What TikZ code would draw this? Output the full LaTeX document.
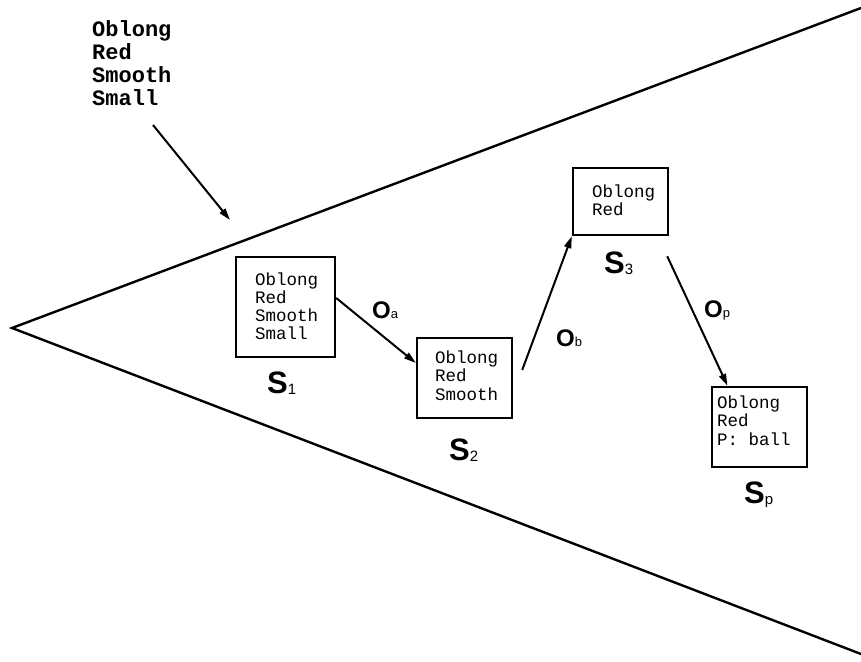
\documentclass[tikz,border=0pt]{standalone}
\usepackage{fontspec}
\setmainfont{Liberation Serif}
\newfontfamily\monofont{Liberation Mono}
\newfontfamily\labelsans{Liberation Sans}
\usetikzlibrary{arrows.meta}

% lines stacked at a fixed baseline distance; the stack's baseline is its first line
\newcommand\linestack[2]{\vtop{\baselineskip=#1\lineskiplimit=-100pt\relax #2}}
% state names: bold S with a plain subscript
\newcommand\statename[2]{{\labelsans\bfseries\fontsize{31}{31}\selectfont #1}{\labelsans\fontsize{15}{15}\selectfont\raisebox{-1pt}{#2}}}
% operator names: bold O with a small subscript
\newcommand\opname[2]{{\labelsans\bfseries\fontsize{24}{24}\selectfont #1}{\labelsans\fontsize{13}{13}\selectfont #2}}

\tikzset{
  statebox/.style={draw, line width=2.4pt, inner sep=0pt},
  boxtext/.style={inner sep=0pt, anchor=base west, font=\monofont\fontsize{17.5}{18.3}\selectfont},
  cuetext/.style={inner sep=0pt, anchor=base west, font=\monofont\bfseries\fontsize{22}{23}\selectfont},
  namelabel/.style={inner sep=0pt, anchor=base west},
  conearm/.style={line width=2.4pt, line cap=round},
  opedge/.style={line width=2pt, -{Triangle[length=12pt,width=7pt]}},
}

\begin{document}
\begin{tikzpicture}[x=1pt, y=-1pt]
  \useasboundingbox (0,0) rectangle (861,661);
  \fill[white] (0,0) rectangle (861,661);

  % the cone of the search space
  \coordinate (apex) at (12,328);
  \coordinate (upperend) at (861,8);
  \coordinate (lowerend) at (861,654);
  \draw[conearm] (upperend) -- (apex) -- (lowerend);

  % incoming description
  \node[cuetext] (cue) at (92,37)
    {\linestack{23pt}{\hbox{Oblong}\hbox{Red}\hbox{Smooth}\hbox{Small}}};
  \coordinate (cuetail) at (153,125);
  \coordinate (cuehead) at (230,220);
  \draw[opedge] (cuetail) -- (cuehead);

  % states
  \node[statebox, minimum width=99pt, minimum height=100pt] (s1) at (285.5,307) {};
  \node[boxtext] (s1text) at (255,285)
    {\linestack{18.3pt}{\hbox{Oblong}\hbox{Red}\hbox{Smooth}\hbox{Small}}};
  \node[namelabel] (s1name) at (267,393) {\statename{S}{1}};

  \node[statebox, minimum width=95pt, minimum height=80pt] (s2) at (464.5,378) {};
  \node[boxtext] (s2text) at (435,363)
    {\linestack{18.5pt}{\hbox{Oblong}\hbox{Red}\hbox{Smooth}}};
  \node[namelabel] (s2name) at (449,460) {\statename{S}{2}};

  \node[statebox, minimum width=95pt, minimum height=67pt] (s3) at (620.5,201.5) {};
  \node[boxtext] (s3text) at (592,197)
    {\linestack{18.3pt}{\hbox{Oblong}\hbox{Red}}};
  \node[namelabel] (s3name) at (604,273) {\statename{S}{3}};

  \node[statebox, minimum width=95pt, minimum height=80pt] (sp) at (759.5,427) {};
  \node[boxtext] (sptext) at (717,408)
    {\linestack{18.5pt}{\hbox{Oblong}\hbox{Red}\hbox{P: ball}}};
  \node[namelabel] (spname) at (744,503) {\statename{S}{p}};

  % operators
  \draw[opedge] ([yshift=9pt]s1.east) -- ([yshift=15pt]s2.west);
  \node[namelabel] (oa) at (372,318) {\opname{O}{a}};

  \draw[opedge] ([xshift=9pt,yshift=8pt]s2.east) -- (s3.south west);
  \node[namelabel] (ob) at (556,346) {\opname{O}{b}};

  \draw[opedge] ([xshift=-2pt,yshift=-20pt]s3.south east) -- ([xshift=-32pt]sp.north);
  \node[namelabel] (op) at (704,317) {\opname{O}{p}};
\end{tikzpicture}
\end{document}
